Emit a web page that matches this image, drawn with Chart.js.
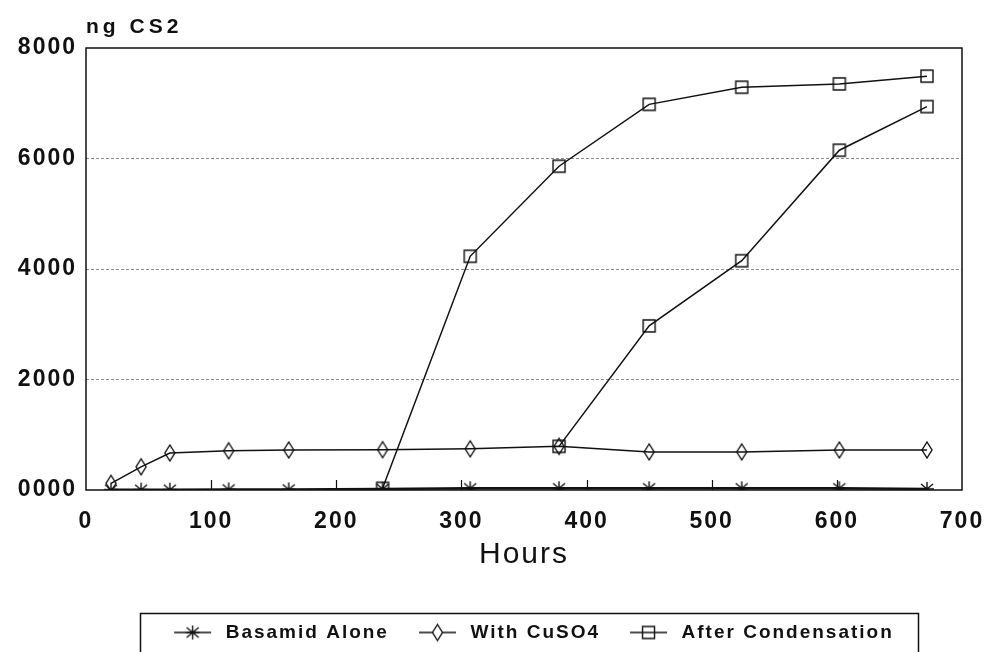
<!DOCTYPE html>
<html>
<head>
<meta charset="utf-8">
<script src="https://cdn.jsdelivr.net/npm/chart.js@4/dist/chart.umd.min.js"></script>
<style>
  html, body { margin: 0; padding: 0; background: #fff; }
  canvas { display: block; }
</style>
</head>
<body>
<canvas id="cs2" width="989" height="652"></canvas>
<script>
// Sampling times (hours) and CS2 readings (ng)
const hours = [20, 44, 67, 114, 162, 237, 307, 378, 450, 524, 602, 672];
const basamidAlone = [5, 5, 5, 10, 10, 20, 30, 30, 30, 30, 30, 20];
const withCuSO4 = [120, 420, 670, 710, 725, 730, 745, 790, 690, 690, 725, 725];

// Two condensation runs, both plotted as "After Condensation"
const condensationHoursA = [237, 307, 378, 450, 524, 602, 672];
const afterCondensationA = [30, 4230, 5860, 6980, 7290, 7350, 7490];
const condensationHoursB = [378, 450, 524, 602, 672];
const afterCondensationB = [790, 2970, 4150, 6150, 6940];

const yTickLabels = ['0000', '2000', '4000', '6000', '8000'];
const seriesNames = ['Basamid Alone', 'With CuSO4', 'After Condensation'];

const INK = '#111';
const FONT = "'Liberation Sans', Arial, sans-serif";

function pairs(xs, ys) { return xs.map((x, i) => ({ x: x, y: ys[i] })); }

// Marker glyph; for legend icons a short line runs through it, with room on the left
function marker(kind, withLine) {
  const w = withLine ? 62 : 20, h = 20;
  const c = document.createElement('canvas');
  c.width = w; c.height = h;
  const g = c.getContext('2d');
  g.strokeStyle = INK; g.lineWidth = 1.4; g.lineCap = 'butt';
  const x0 = withLine ? 20 : 0, x1 = withLine ? w - 5 : w;
  const cx = (x0 + x1) / 2, cy = h / 2;
  if (withLine) {
    g.beginPath(); g.moveTo(x0, cy); g.lineTo(x1, cy); g.stroke();
  }
  g.beginPath();
  if (kind === 'star') {
    g.moveTo(cx, cy - 7); g.lineTo(cx, cy + 7);
    g.moveTo(cx - 6, cy - 5); g.lineTo(cx + 6, cy + 5);
    g.moveTo(cx - 6, cy + 5); g.lineTo(cx + 6, cy - 5);
    g.moveTo(cx - 7, cy); g.lineTo(cx + 7, cy);
    g.stroke();
  } else if (kind === 'diamond') {
    g.moveTo(cx, cy - 8); g.lineTo(cx + 5, cy); g.lineTo(cx, cy + 8); g.lineTo(cx - 5, cy); g.closePath();
    if (withLine) { g.fillStyle = '#fff'; g.fill(); }
    g.stroke();
  } else {
    g.rect(cx - 6, cy - 6, 12, 12);
    g.stroke();
  }
  return c;
}

const pointStar = marker('star', false);
const pointDiamond = marker('diamond', false);
const pointSquare = marker('square', false);
const legendIcons = [marker('star', true), marker('diamond', true), marker('square', true)];

// Wrap a layout box so its text is drawn with its own letter spacing
function spaced(box, spacing) {
  if (!box || box.__spaced) return;
  box.__spaced = true;
  ['fit', 'draw'].forEach(fn => {
    const orig = box[fn];
    box[fn] = function () {
      const ctx = this.ctx;
      const prev = ctx.letterSpacing;
      ctx.letterSpacing = spacing;
      const out = orig.apply(this, arguments);
      ctx.letterSpacing = prev;
      return out;
    };
  });
}

// Frame around the plot, inward x ticks, and the box around the legend
const decor = {
  id: 'decor',
  afterInit(chart) { spaced(chart.titleBlock, '4px'); },
  beforeLayout(chart) { chart.ctx.letterSpacing = '2px'; },
  beforeDraw(chart) { chart.ctx.letterSpacing = '2px'; },
  beforeDatasetsDraw(chart) {
    const { ctx, chartArea: a, scales: { x } } = chart;
    ctx.save();
    ctx.strokeStyle = INK;
    ctx.lineWidth = 1.5;
    ctx.strokeRect(a.left, a.top, a.right - a.left, a.bottom - a.top);
    ctx.lineWidth = 1.2;
    ctx.beginPath();
    x.ticks.forEach(t => {
      if (t.value > x.min && t.value < x.max) {
        const px = Math.round(x.getPixelForValue(t.value)) + 0.5;
        ctx.moveTo(px, a.bottom);
        ctx.lineTo(px, a.bottom - 10);
      }
    });
    ctx.stroke();
    ctx.restore();
  },
  afterDraw(chart) {
    const lg = chart.legend;
    if (!lg || !lg.legendHitBoxes || !lg.legendHitBoxes.length) return;
    const hb = lg.legendHitBoxes;
    const l = Math.min(...hb.map(b => b.left)) - 14;
    const r = Math.max(...hb.map(b => b.left + b.width)) + 24;
    const ctx = chart.ctx;
    ctx.save();
    ctx.strokeStyle = INK;
    ctx.lineWidth = 1.5;
    ctx.strokeRect(Math.round(l) + 0.5, Math.round(lg.top) + 0.5, Math.round(r - l), chart.height + 10 - lg.top);
    ctx.restore();
  }
};

const lineBase = {
  borderColor: INK,
  backgroundColor: INK,
  borderWidth: 1.5,
  pointRadius: 6,
  pointHoverRadius: 6,
  tension: 0,
  fill: false
};

new Chart(document.getElementById('cs2'), {
  type: 'line',
  data: {
    datasets: [
      Object.assign({}, lineBase, { label: seriesNames[0], data: pairs(hours, basamidAlone), pointStyle: pointStar, borderWidth: 2.5 }),
      Object.assign({}, lineBase, { label: seriesNames[1], data: pairs(hours, withCuSO4), pointStyle: pointDiamond }),
      Object.assign({}, lineBase, { label: seriesNames[2], data: pairs(condensationHoursA, afterCondensationA), pointStyle: pointSquare }),
      Object.assign({}, lineBase, { label: seriesNames[2] + ' ', data: pairs(condensationHoursB, afterCondensationB), pointStyle: pointSquare })
    ]
  },
  options: {
    responsive: false,
    animation: false,
    devicePixelRatio: 1,
    layout: { padding: { left: 0, right: 27, top: 0, bottom: 0 } },
    plugins: {
      tooltip: { enabled: false },
      title: {
        display: true,
        text: 'ng CS2',
        align: 'start',
        fullSize: false,
        color: INK,
        font: { family: FONT, size: 21, weight: 'bold', lineHeight: 1.2 },
        padding: { top: 15, bottom: 7.8 }
      },
      legend: {
        position: 'bottom',
        fullSize: false,
        labels: {
          color: INK,
          font: { family: FONT, size: 19, weight: 'bold' },
          usePointStyle: true,
          pointStyleWidth: 62,
          padding: 10,
          generateLabels: chart => chart.data.datasets.slice(0, 3).map((ds, i) => ({
            text: ds.label,
            pointStyle: legendIcons[i],
            fontColor: INK,
            strokeStyle: INK,
            fillStyle: INK,
            lineWidth: 0,
            hidden: false,
            datasetIndex: i
          }))
        }
      }
    },
    scales: {
      x: {
        type: 'linear',
        min: 0,
        max: 700,
        ticks: {
          stepSize: 100,
          color: INK,
          padding: 18,
          maxRotation: 0,
          font: { family: FONT, size: 23, weight: 'bold' }
        },
        grid: { display: false, drawTicks: false },
        border: { display: false },
        title: {
          display: true,
          text: 'Hours',
          color: INK,
          font: { family: FONT, size: 30, weight: 'normal', lineHeight: 1.2 },
          padding: { top: 0, bottom: 40 }
        },
        afterFit: s => { s.height = 123; s.paddingLeft = 0; s.paddingRight = 0; }
      },
      y: {
        min: 0,
        max: 8000,
        ticks: {
          stepSize: 2000,
          color: INK,
          padding: 9,
          font: { family: FONT, size: 23, weight: 'bold' },
          callback: (v, i) => yTickLabels[i]
        },
        grid: {
          drawTicks: false,
          lineWidth: 1,
          color: c => (c.tick && (c.tick.value === 0 || c.tick.value === 8000)) ? 'rgba(0,0,0,0)' : '#8c8c8c'
        },
        border: { display: false, dash: [3, 2] },
        afterFit: s => { s.width = 86; }
      }
    }
  },
  plugins: [decor]
});
</script>
</body>
</html>
